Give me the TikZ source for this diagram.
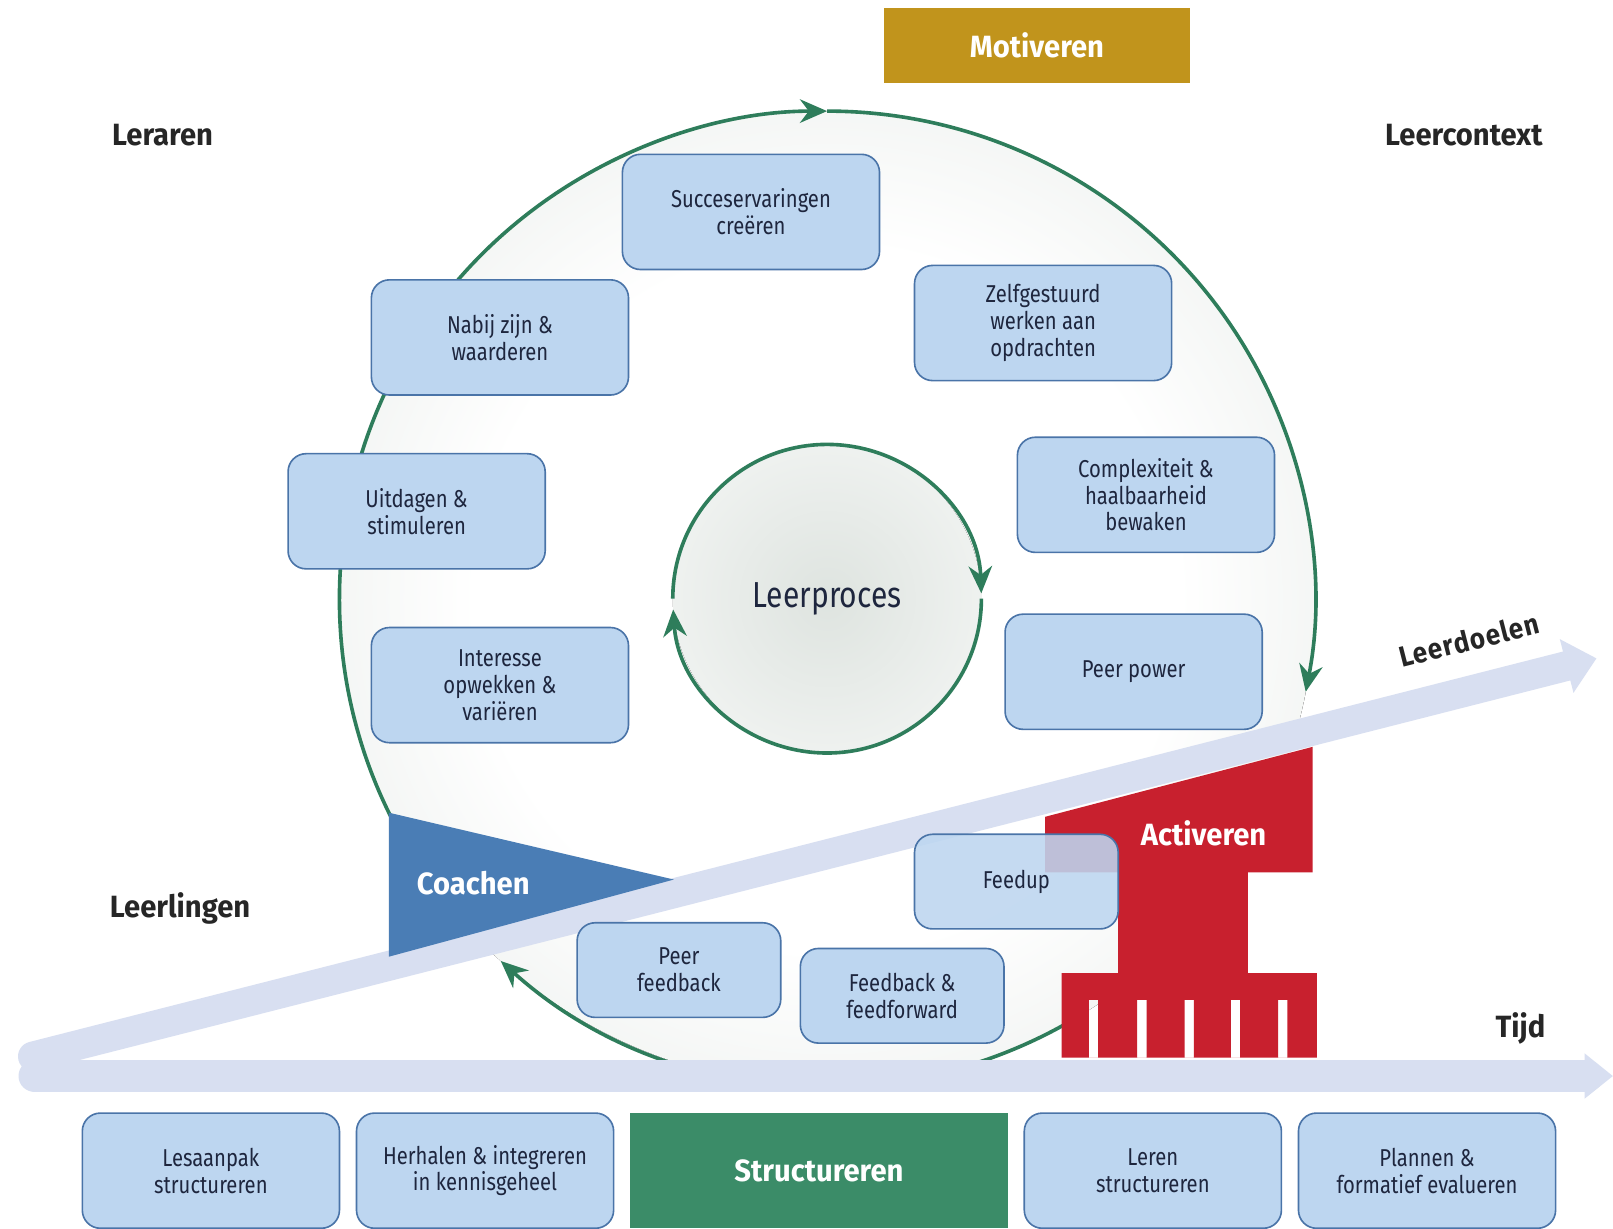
\documentclass[tikz,border=0pt]{standalone}
\usepackage{fontspec}
\setmainfont{Fira Sans}
\newfontfamily\smalletter{Fira Sans}[FakeStretch=0.83]
\newfontfamily\vetletter{Fira Sans}[FakeStretch=0.95]
\newfontfamily\spatieletter{Fira Sans}[FakeStretch=0.9,LetterSpace=4]
\usepackage{tikz}
\usetikzlibrary{shapes, arrows.meta, positioning, calc}
\definecolor{stapblauw}{RGB}{189,214,240}
\definecolor{randblauw}{RGB}{74,116,168}
\definecolor{tekstnavy}{RGB}{30,38,62}
\definecolor{pijlgroen}{RGB}{46,125,91}
\definecolor{structgroen}{RGB}{59,140,104}
\definecolor{motiefgoud}{RGB}{193,148,28}
\definecolor{activrood}{RGB}{200,32,46}
\definecolor{coachblauw}{RGB}{74,125,181}
\definecolor{bandlila}{RGB}{216,223,241}
\definecolor{kringgrijs}{RGB}{208,216,210}
\pgfdeclareradialshading{buitenkring}{\pgfpoint{0bp}{0bp}}{color(0bp)=(white); color(18bp)=(white); color(50bp)=(kringgrijs)}
\pgfdeclareradialshading{binnenkring}{\pgfpoint{0bp}{0bp}}{color(0bp)=(kringgrijs!70); color(50bp)=(white)}
\tikzstyle{stap} = [draw=randblauw, fill=stapblauw, line width=0.9pt, rounded corners=10pt, minimum width=5cm, minimum height=2.24cm, align=center, text=tekstnavy, inner sep=2pt, font=\smalletter\fontsize{13.5}{14.8}\selectfont]
\tikzstyle{kleinestap} = [stap, minimum width=3.96cm, minimum height=1.84cm]
\tikzstyle{kop} = [text=black!85, font=\vetletter\bfseries\fontsize{17}{19}\selectfont]
\tikzstyle{rol} = [text=white, font=\vetletter\bfseries\fontsize{17}{19}\selectfont]
\tikzstyle{groenpijl} = [pijlgroen, line width=2pt, -{Stealth[length=15pt,width=13pt]}]
\tikzstyle{band} = [bandlila, line cap=round]

\begin{document}
\begin{tikzpicture}[x=0.02cm, y=-0.02cm]
	\useasboundingbox (0,0) rectangle (1568,1194);
	\fill[white] (0,0) rectangle (1568,1194);
	\coordinate (mid) at (804,582);
	\fill[shading=buitenkring] (mid) circle[radius=474];
	\draw[groenpijl] (mid) ++(145:474) arc[start angle=145, end angle=270, radius=474];
	\draw[groenpijl] (mid) ++(270:474) arc[start angle=270, end angle=371, radius=474];
	\draw[groenpijl] (mid) ++(60:474) arc[start angle=60, end angle=132, radius=474];
	\fill[shading=binnenkring] (mid) circle[radius=150];
	\draw[groenpijl] (mid) ++(180:150) arc[start angle=180, end angle=358, radius=150];
	\draw[groenpijl] (mid) ++(0:150) arc[start angle=0, end angle=176, radius=150];
	\node[text=tekstnavy, font=\smalletter\fontsize{20}{22}\selectfont] (leerproces) at (mid) {Leerproces};

	\coordinate (doelstart) at (32,1027);
	\coordinate (doeltip) at (1552,640);
	\draw[band, line width=0.58cm, -{Triangle[length=0.6cm, width=1.04cm]}] (doelstart) -- (doeltip);
	\node[text=black!85, font=\spatieletter\bfseries\fontsize{16}{18}\selectfont, rotate=14.3] (leerdoelen) at (1428,622) {Leerdoelen};

	\node[stap] (succes) at (730,206) {Succeservaringen\\creëren};
	\node[stap] (nabij) at (486,328) {Nabij zijn \&\\waarderen};
	\node[stap] (zelf) at (1014,314) {Zelfgestuurd\\werken aan\\opdrachten};
	\node[stap] (uitdagen) at (405,497) {Uitdagen \&\\stimuleren};
	\node[stap] (complex) at (1114,481) {Complexiteit \&\\haalbaarheid\\bewaken};
	\node[stap] (interesse) at (486,666) {Interesse\\opwekken \&\\variëren};
	\node[stap] (peerpower) at (1102,653) {Peer power};

	\fill[coachblauw] (378,790) -- (655,855) -- (378,930) -- cycle;
	\node[rol] (coachen) at (460,858) {Coachen};

	\fill[activrood, even odd rule] (1016,794) -- (1276,726) -- (1276,848) -- (1213,848) -- (1213,946)
		-- (1280,946) -- (1280,1028) -- (1032,1028) -- (1032,946) -- (1087,946) -- (1087,848) -- (1016,848) -- cycle
		\foreach \tand in {1063,1110,1156,1201,1247} {(\tand-4.5,972) rectangle (\tand+4.5,1028)};
	\node[rol] (activeren) at (1170,810) {Activeren};

	\node[kleinestap, fill opacity=0.88, text opacity=1] (feedup) at (988,857) {Feedup};
	\node[kleinestap] (peerfeedback) at (660,943) {Peer\\feedback};
	\node[kleinestap] (feedback) at (877,968) {Feedback \&\\feedforward};

	\draw[band, line width=0.64cm, -{Triangle[length=0.55cm, width=0.84cm]}] (34,1046) -- (1568,1046);

	\node[stap] (lesaanpak) at (205,1138) {Lesaanpak\\structureren};
	\node[stap, right=0.3cm of lesaanpak] (herhalen) {Herhalen \& integreren\\in kennisgeheel};
	\node[rol, fill=structgroen, minimum width=7.34cm, minimum height=2.24cm, right=0.3cm of herhalen] (structureren) {Structureren};
	\node[stap, right=0.3cm of structureren] (leren) {Leren\\structureren};
	\node[stap, right=0.3cm of leren] (plannen) {Plannen \&\\formatief evalueren};

	\node[rol, fill=motiefgoud, minimum width=5.94cm, minimum height=1.46cm] (motiveren) at (1008,44) {Motiveren};
	\node[kop] (leraren) at (158,131) {Leraren};
	\node[kop] (leercontext) at (1423,131) {Leercontext};
	\node[kop] (leerlingen) at (175,883) {Leerlingen};
	\node[kop] (tijd) at (1478,1000) {Tijd};
\end{tikzpicture}
\end{document}
